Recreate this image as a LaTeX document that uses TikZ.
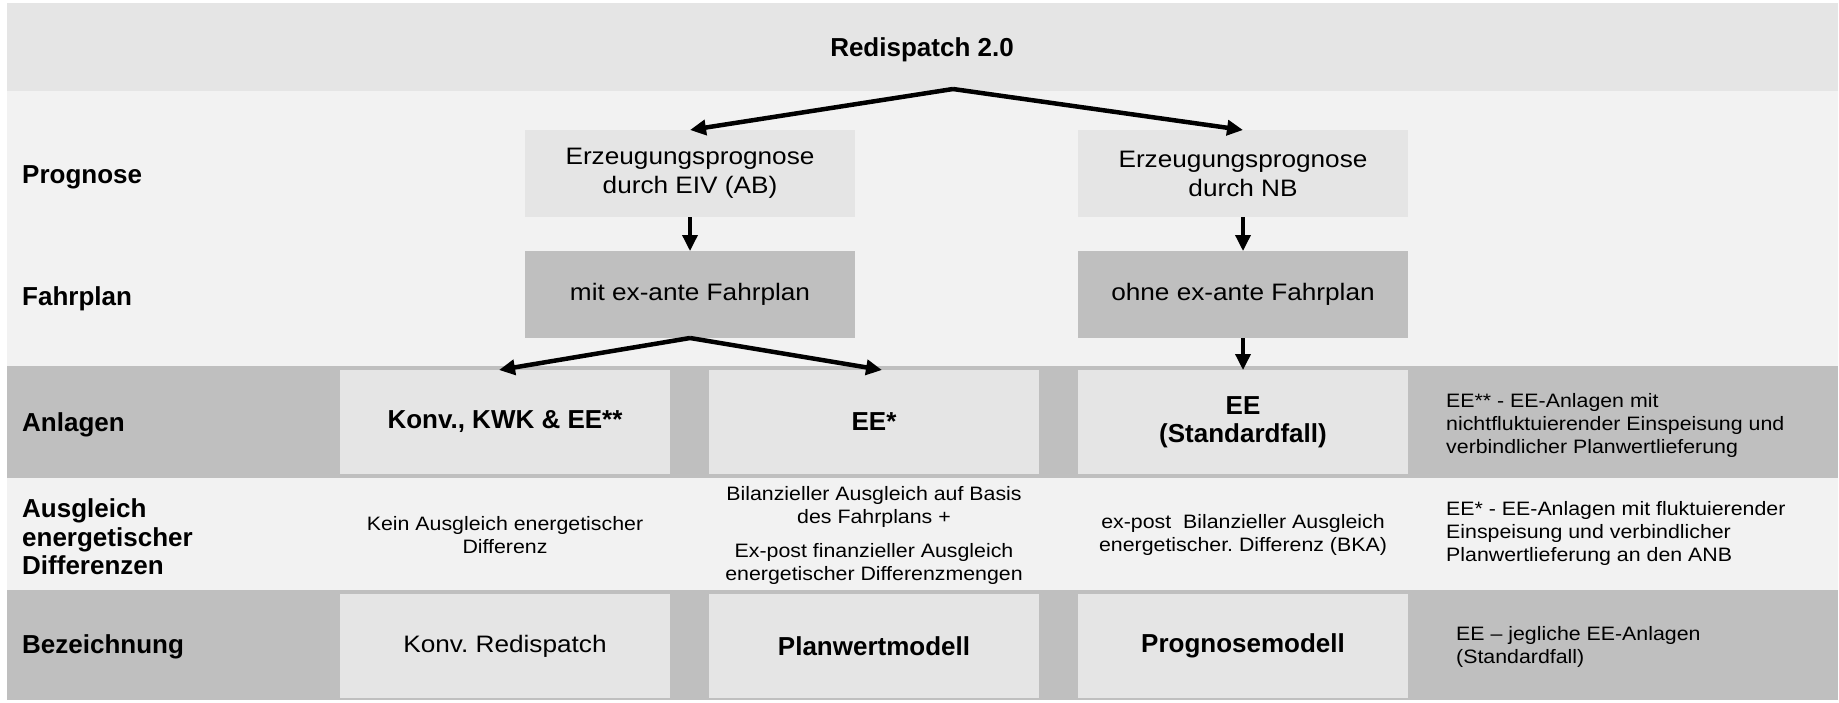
\documentclass[tikz,border=0pt]{standalone}
\usepackage{fontspec}
\setmainfont{Liberation Sans}
\newfontfamily\rfont{Liberation Sans}[FakeStretch=1.1]
\usetikzlibrary{arrows.meta,positioning}
\definecolor{bgtop}{HTML}{E5E5E5}
\definecolor{bglight}{HTML}{F2F2F2}
\definecolor{bgdark}{HTML}{BFBFBF}
\newcommand\regbig{\rfont\fontsize{23.8}{29}\selectfont}
\newcommand\regsmall{\rfont\fontsize{19.4}{23}\selectfont}
\newcommand\boldbig{\bfseries\fontsize{26}{28.5}\selectfont}
\frenchspacing

\begin{document}
\begin{tikzpicture}[x=1pt, y=-1pt, >={Triangle[length=16pt,width=15pt]}, node distance=34pt]
  \tikzset{
    box/.style={fill=bgtop, minimum width=330pt, minimum height=87pt, inner sep=0pt, outer sep=0pt, align=center, font=\regbig},
    fbox/.style={box, fill=bgdark},
    cell/.style={box, minimum height=104pt, font=\boldbig},
    lab/.style={anchor=base west, align=left, font=\boldbig, inner sep=0pt},
    note/.style={anchor=west, align=left, font=\regsmall, inner sep=0pt},
    txt/.style={align=center, font=\regsmall, inner sep=0pt},
    arr/.style={->, line width=4.5pt},
    darr/.style={->, line width=3.5pt}
  }
  \useasboundingbox (0,0) rectangle (1839,702);
  \fill[bgtop] (7,3) rectangle (1838,91);
  \fill[bglight] (7,91) rectangle (1838,366);
  \fill[bgdark] (7,366) rectangle (1838,478);
  \fill[bglight] (7,478) rectangle (1838,590);
  \fill[bgdark] (7,590) rectangle (1838,700);

  \node[anchor=base, font=\boldbig] (title) at (922,56) {Redispatch 2.0};
  \coordinate (split) at (953,89);
  \coordinate (mid) at (0,535);

  \node[lab] (lprog) at (22,183) {Prognose};
  \node[lab] (lfahr) at (22,305) {Fahrplan};
  \node[lab] (lanl) at (22,431) {Anlagen};
  \node[lab, anchor=west] (laus) at (22,537) {Ausgleich\\energetischer\\Differenzen};
  \node[lab] (lbez) at (22,653) {Bezeichnung};

  \node[box] (prog1) at (690,173.5) {Erzeugungsprognose\\durch EIV (AB)};
  \node[box, right=223pt of prog1] (prog2) {Erzeugungsprognose\\durch NB};
  \node[fbox, below=of prog1] (fahr1) {mit ex-ante Fahrplan};
  \node[fbox, below=of prog2] (fahr2) {ohne ex-ante Fahrplan};

  \node[cell] (anl2) at (874,422) {EE*};
  \node[cell, left=39pt of anl2] (anl1) {Konv., KWK \& EE**};
  \node[cell, right=39pt of anl2] (anl3) {EE\\(Standardfall)};

  \node[cell, font=\regbig, below=120pt of anl1] (bez1) {Konv. Redispatch};
  \node[cell, below=120pt of anl2] (bez2) {Planwertmodell};
  \node[cell, below=120pt of anl3] (bez3) {Prognosemodell};

  \node[txt] (aus1) at (anl1 |- mid) {Kein Ausgleich energetischer\\Differenz};
  \node[txt] (aus2) at (anl2 |- mid) {Bilanzieller Ausgleich auf Basis\\des Fahrplans +\\[11pt]Ex-post finanzieller Ausgleich\\energetischer Differenzmengen};
  \node[txt] (aus3) at (anl3 |- mid) {ex-post\ \ Bilanzieller Ausgleich\\energetischer. Differenz (BKA)};

  \node[note] (nanl) at (1446,425) {EE** - EE-Anlagen mit\\nichtfluktuierender Einspeisung und\\verbindlicher Planwertlieferung};
  \node[note] (naus) at (1446,533) {EE* - EE-Anlagen mit fluktuierender\\Einspeisung und verbindlicher\\Planwertlieferung an den ANB};
  \node[note] (nbez) at (1456,647) {EE – jegliche EE-Anlagen\\(Standardfall)};

  \draw[arr] (split) -- (prog1.north);
  \draw[arr] (split) -- (prog2.north);
  \draw[darr] (prog1) -- (fahr1);
  \draw[darr] (prog2) -- (fahr2);
  \draw[arr] (fahr1.south) -- ([xshift=-6pt]anl1.north);
  \draw[arr] (fahr1.south) -- ([xshift=8pt]anl2.north);
  \draw[darr] (fahr2) -- (anl3);
\end{tikzpicture}
\end{document}
